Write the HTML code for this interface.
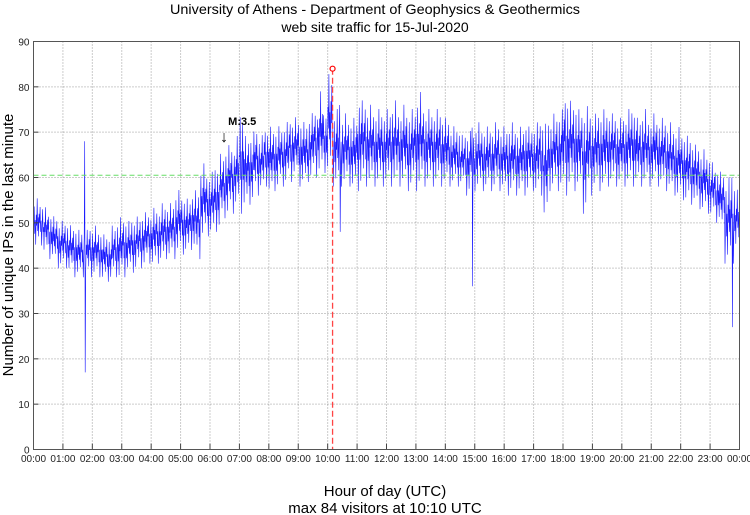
<!DOCTYPE html>
<html><head><meta charset="utf-8"><style>
html,body{margin:0;padding:0;background:#fff;}
svg{display:block;font-family:"Liberation Sans",sans-serif;}
</style></head><body>
<svg id="chart" width="750" height="515" viewBox="0 0 750 515">
<text x="375" y="14" font-size="14" text-anchor="middle" textLength="410" lengthAdjust="spacingAndGlyphs">University of Athens - Department of Geophysics &amp; Geothermics</text>
<text x="375" y="32" font-size="14" text-anchor="middle">web site traffic for 15-Jul-2020</text>
<g id="grid"></g>
<g id="series"></g>
<g id="axes"></g>
<text transform="translate(13,245) rotate(-90)" font-size="15" text-anchor="middle">Number of unique IPs in the last minute</text>
<text x="385" y="496" font-size="15" text-anchor="middle">Hour of day (UTC)</text>
<text x="385" y="513" font-size="15" text-anchor="middle">max 84 visitors at 10:10 UTC</text>
</svg>
<script>
const yTicks=[0,10,20,30,40,50,60,70,80,90];
const xTickLabels=["00:00","01:00","02:00","03:00","04:00","05:00","06:00","07:00","08:00","09:00","10:00","11:00","12:00","13:00","14:00","15:00","16:00","17:00","18:00","19:00","20:00","21:00","22:00","23:00","00:00"];
const lowValues=[44,45,43,42,41,40, 40,39,38,38,17,38, 38,38,37,37,38,37, 38,39,39,40,40,41, 40,41,41,42,42,43, 43,43,44,42,46,47, 47,48,50,51,52,53, 52,53,54,56,57,58, 56,57,58,58,59,60, 58,58,59,60,60,61, 60,58,48,58,58,57, 57,58,58,58,58,58, 58,58,58,58,57,58, 57,58,58,58,58,58, 58,58,58,58,56,36, 57,57,57,57,57,57, 56,56,56,56,56,57, 56,56,50,57,57,57, 56,57,57,57,52,56, 57,57,57,58,58,58, 58,58,58,58,58,58, 58,58,57,57,56,55, 55,54,54,53,52,52, 51,50,48,41,27,44];
const highValues=[56,55,54,53,52,51, 51,50,50,49,68,50, 50,49,48,48,50,52, 52,51,52,52,53,53, 54,54,55,55,55,58, 57,56,58,58,64,62, 62,64,66,68,68,70, 77,70,71,72,70,72, 72,72,72,73,74,74, 74,73,75,76,80,76, 84,76,76,75,74,74, 80,78,77,76,76,76, 76,78,76,77,76,76, 80,77,76,76,76,75, 74,72,72,70,71,71, 73,72,72,72,73,72, 72,73,72,72,74,72, 73,74,73,74,75,76, 80,78,78,76,77,76, 75,76,76,76,75,74, 75,76,77,74,76,74, 75,74,74,73,72,72, 71,70,69,68,67,66, 64,63,62,61,60,58];
const averageLine=60.5;
const maxValue=84, maxMinute=610;
const markerLabel="M:3.5", markerMinute=395;

const NS="http://www.w3.org/2000/svg";
const X0=33.5,X1=739.5,Y0=449.5,Y1=41.5;
const xs=m=>X0+(X1-X0)*m/1440;
const ys=v=>Y0-(Y0-Y1)*v/90;
function mk(tag,attrs,parent){const e=document.createElementNS(NS,tag);for(const k in attrs)e.setAttribute(k,attrs[k]);parent.appendChild(e);return e;}
const grid=document.getElementById('grid'),axes=document.getElementById('axes'),series=document.getElementById('series');
yTicks.forEach(v=>{
  if(v>0){const l=mk('line',{x1:X0,x2:X1,y1:ys(v),y2:ys(v),stroke:'#999','stroke-dasharray':'1,2','stroke-width':1},grid);
  
  }
  const t=mk('line',{x1:X0,x2:X0+5,y1:ys(v),y2:ys(v),stroke:'#444'},axes);
  
  
  const tx=mk('text',{x:X0-4,y:ys(v)+4,'font-size':10,'text-anchor':'end',fill:'#222'},axes);tx.textContent=v;
  
  
});
xTickLabels.forEach((s,i)=>{
  const x=xs(i*60);
  if(i>0){const l=mk('line',{x1:x,x2:x,y1:Y1,y2:Y0,stroke:'#999','stroke-dasharray':'1,2'},grid);
  
  }
  const t=mk('line',{x1:x,x2:x,y1:Y0,y2:Y0-6,stroke:'#444'},axes);
  
  
  const tx=mk('text',{x:x,y:462,'font-size':10,'text-anchor':'middle',fill:'#222'},axes);tx.textContent=s;
  
  
});
const frame=mk('path',{d:`M${X0},${Y1}V${Y0}H${X1}V${Y1}Z`,fill:'none',stroke:'#555','stroke-width':1},axes);


const pat=[0.4,0.8,0.3,0.55,0.1,0.65,0.45,0.95,0.35,0.6,0.2,0.7,0.5,0.85,0.3,0.55,0.0];
let pts=[];let c=0;
lowValues.forEach((lo,i)=>{
  const hi=highValues[i];
  for(let k=0;k<10;k++){
    let f=pat[c%pat.length];c++;
    let v;
    if(hi-lo>25){
      const pl=i>0?lowValues[i-1]:lo, ph=i>0?highValues[i-1]:hi;
      if(k===5) v=lo; else if(k===4) v=hi; else v=pl+(ph-pl)*f;
    } else v=lo+(hi-lo)*f;
    pts.push(xs(i*10+k+0.5).toFixed(1)+','+ys(v).toFixed(1));
  }
});
const pl=mk('polyline',{points:pts.join(' '),fill:'none',stroke:'#0000ff','stroke-width':0.6,'stroke-opacity':0.9},series);


const avg=mk('line',{x1:X0,x2:X1,y1:ys(averageLine),y2:ys(averageLine),stroke:'#66dd66','stroke-dasharray':'5,3','stroke-width':1},series);


const vl=mk('line',{x1:xs(maxMinute),x2:xs(maxMinute),y1:ys(maxValue),y2:Y0,stroke:'#ff4444','stroke-dasharray':'6,3','stroke-width':1.3},series);


const mc=mk('circle',{cx:xs(maxMinute),cy:ys(maxValue),r:2.5,fill:'#fff',stroke:'#ff0000','stroke-width':1.2},series);


const ml=mk('text',{x:xs(markerMinute)+1,y:125,'font-size':11,'font-weight':'bold'},series);ml.textContent=markerLabel;


const ar=mk('text',{x:xs(markerMinute)-3,y:142,'font-size':16,'text-anchor':'middle'},series);ar.textContent='↓';


</script>
</body></html>
